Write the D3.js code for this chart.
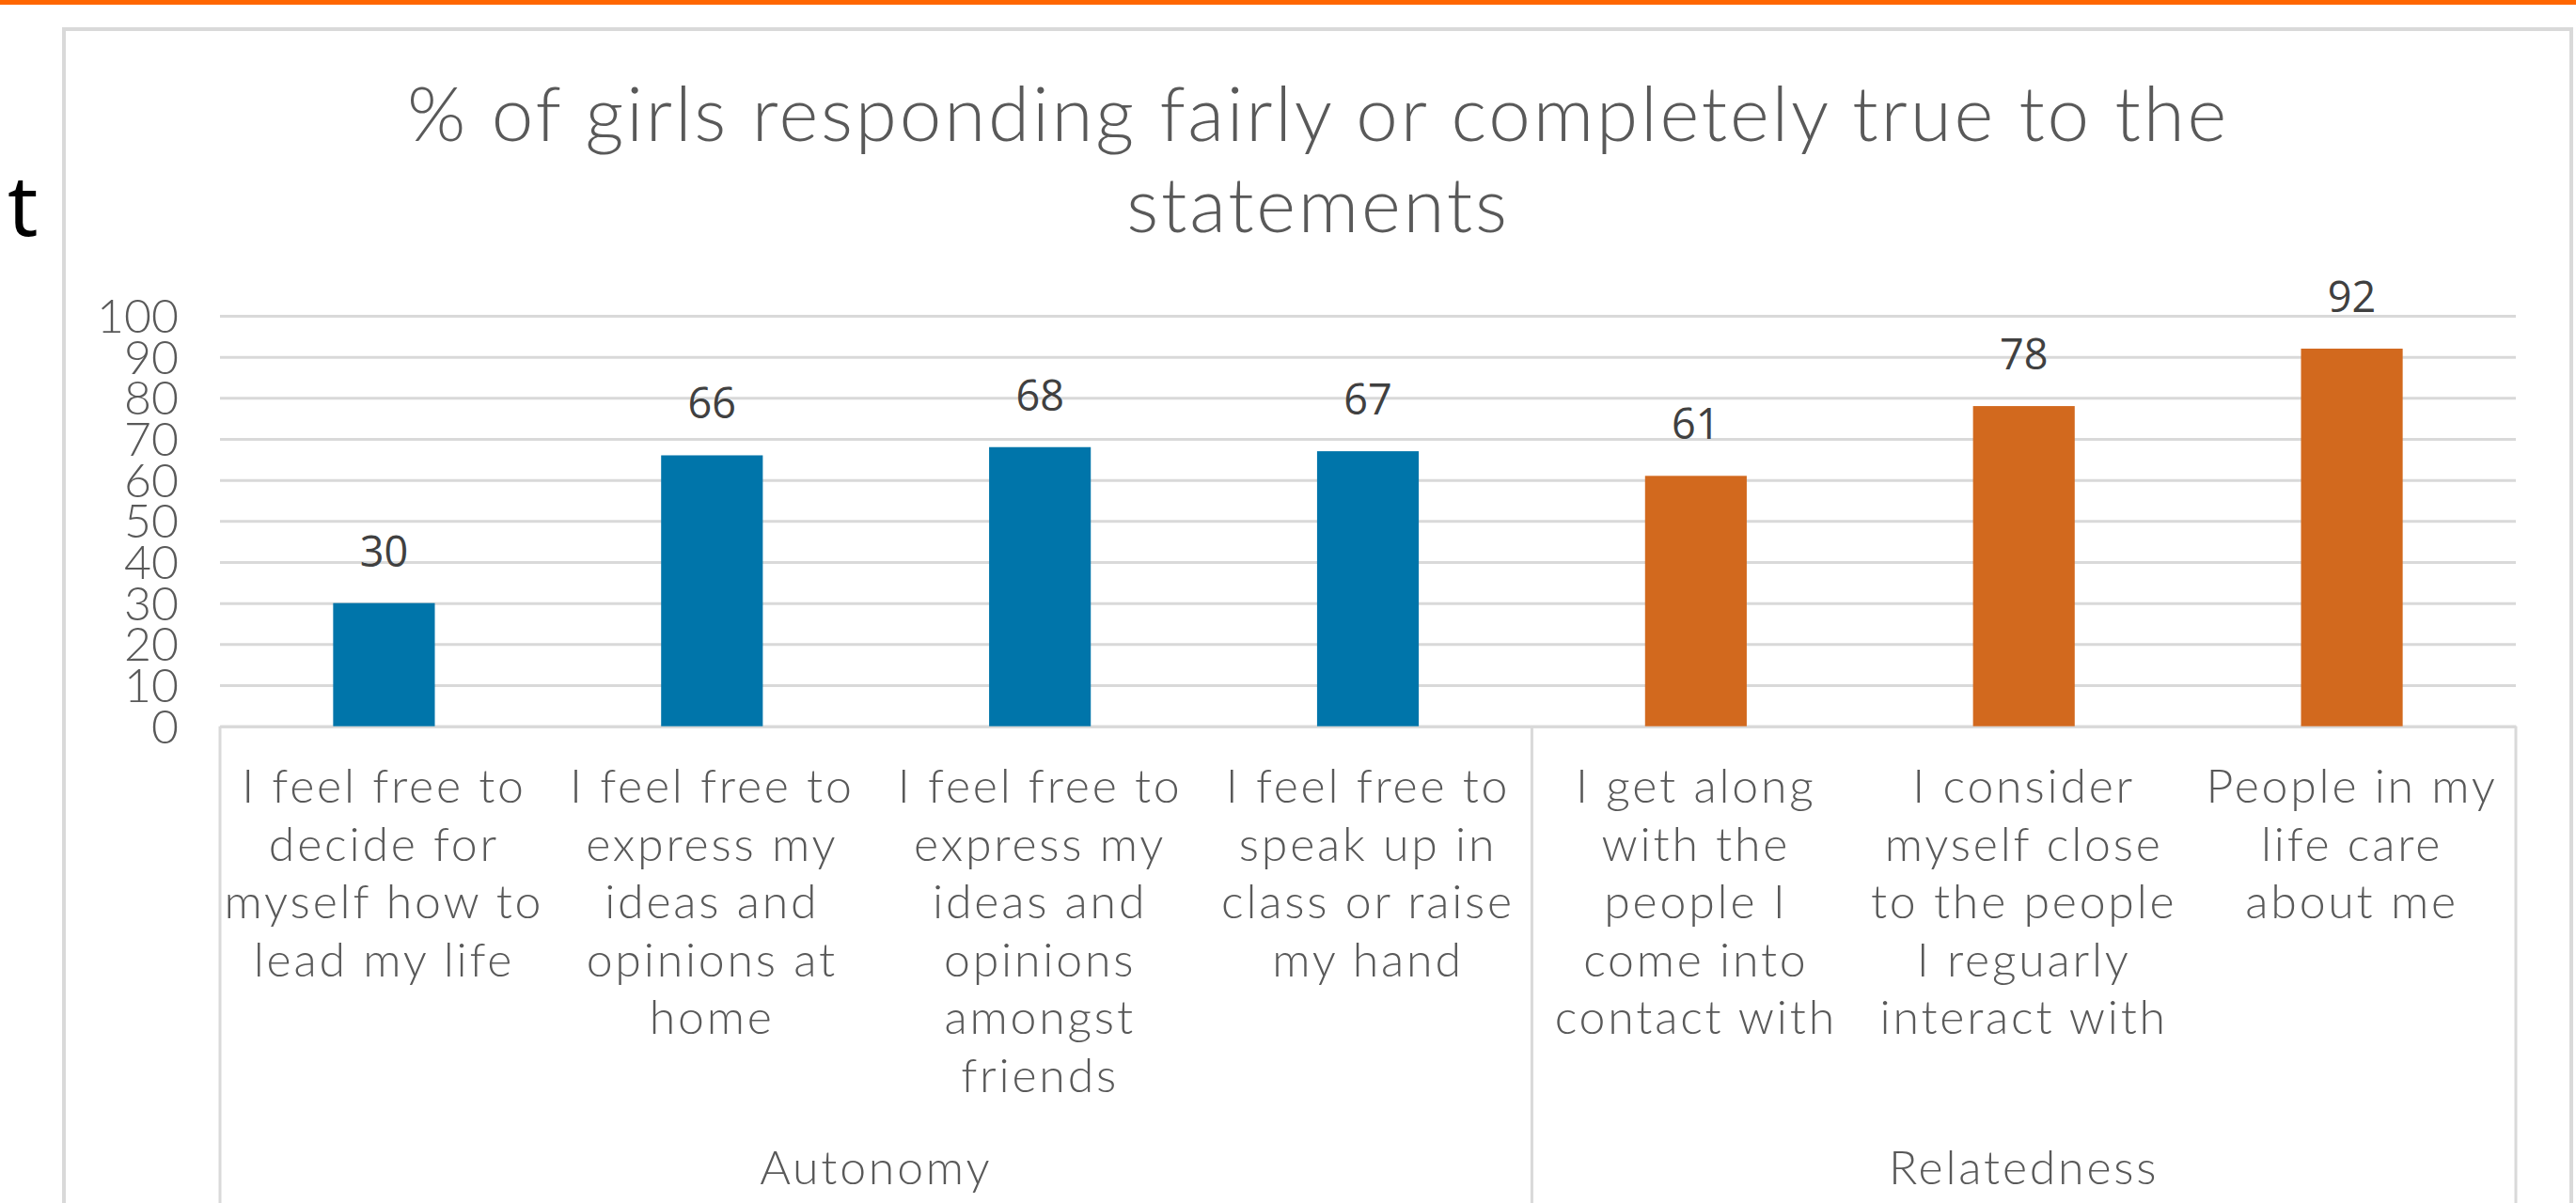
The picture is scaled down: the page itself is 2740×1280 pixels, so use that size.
<!DOCTYPE html>
<html>
<head>
<meta charset="utf-8">
<script src="https://cdn.jsdelivr.net/npm/d3@7"></script>
<style>
  html, body { margin: 0; padding: 0; background: #fff; }
  svg { display: block; }
</style>
</head>
<body>
<svg id="chart"></svg>
<script>
'use strict';

// ── Data ──────────────────────────────────────────────────────────────────
const categoryLines = [
  ['I feel free to', 'decide for', 'myself how to', 'lead my life'],
  ['I feel free to', 'express my', 'ideas and', 'opinions at', 'home'],
  ['I feel free to', 'express my', 'ideas and', 'opinions', 'amongst', 'friends'],
  ['I feel free to', 'speak up in', 'class or raise', 'my hand'],
  ['I get along', 'with the', 'people I', 'come into', 'contact with'],
  ['I consider', 'myself close', 'to the people', 'I reguarly', 'interact with'],
  ['People in my', 'life care', 'about me']
];
const values     = [30, 66, 68, 67, 61, 78, 92];
const groupNames = ['Autonomy', 'Relatedness'];
const groupSizes = [4, 3];
const yTicks     = [0, 10, 20, 30, 40, 50, 60, 70, 80, 90, 100];
const titleLines = ['% of girls responding fairly or completely true to the', 'statements'];

// ── Dimensions ────────────────────────────────────────────────────────────
const W = 2740, H = 1280;
const PLOT_L = 234, PLOT_R = 2676;
const PLOT_T = 336, PLOT_B = 772.7;
const GOTHIC = "'Century Gothic', Lato, 'Open Sans', sans-serif";
const GREY   = '#595959';
const RULE   = '#d9d9d9';
const SPREAD = 2.8;   // Lato is narrower than Century Gothic

const svg = d3.select('#chart').attr('width', W).attr('height', H);
svg.append('rect').attr('width', W).attr('height', H).attr('fill', '#fff');

// slide accent bar + stray slide text behind the chart
svg.append('rect').attr('x', 0).attr('y', 0).attr('width', W).attr('height', 5).attr('fill', '#ff6600');
svg.append('text')
  .attr('x', 8).attr('y', 251)
  .attr('font-family', "'Noto Sans', sans-serif")
  .attr('font-size', 90)
  .attr('fill', '#000')
  .text('t');

// chart frame (bottom edge falls outside the picture)
svg.append('rect')
  .attr('x', 68).attr('y', 31)
  .attr('width', 2735 - 68).attr('height', 1400)
  .attr('fill', '#fff')
  .attr('stroke', RULE).attr('stroke-width', 4);

// ── Title ─────────────────────────────────────────────────────────────────
svg.append('text')
  .attr('text-anchor', 'middle')
  .attr('font-family', GOTHIC).attr('font-weight', 300)
  .attr('font-size', 80)
  .attr('letter-spacing', SPREAD)
  .attr('fill', GREY)
  .selectAll('tspan')
  .data(titleLines)
  .join('tspan')
  .attr('x', 1402)
  .attr('y', (d, i) => 150 + i * 97)
  .text(d => d);

// ── Scales ────────────────────────────────────────────────────────────────
const x = d3.scaleBand()
  .domain(values.map((d, i) => i))
  .range([PLOT_L, PLOT_R])
  .padding(0);

const y = d3.scaleLinear()
  .domain([0, 100])
  .range([PLOT_B, PLOT_T]);

const barW = x.bandwidth() * 0.31;

// ── Y axis + gridlines ────────────────────────────────────────────────────
svg.append('g')
  .attr('transform', `translate(${PLOT_L},0)`)
  .call(d3.axisLeft(y)
    .tickValues(yTicks)
    .tickSizeInner(-(PLOT_R - PLOT_L))
    .tickSizeOuter(0)
    .tickPadding(44))
  .call(ax => ax.select('.domain').remove())
  .call(ax => ax.selectAll('.tick line').attr('stroke', RULE).attr('stroke-width', 3))
  .call(ax => ax.selectAll('.tick text')
    .attr('fill', GREY)
    .attr('font-family', GOTHIC).attr('font-weight', 300)
    .attr('font-size', 50)
    .attr('dy', '0.35em'));

// ── X axis (two level) ────────────────────────────────────────────────────
const xAxis = svg.append('g')
  .attr('transform', `translate(0,${PLOT_B})`)
  .call(d3.axisBottom(x).tickSize(0).tickFormat(''))
  .call(ax => ax.select('.domain').attr('stroke', RULE).attr('stroke-width', 3));

xAxis.selectAll('.tick text')
  .attr('y', 0).attr('dy', 0)
  .attr('fill', GREY)
  .attr('font-family', GOTHIC).attr('font-weight', 300)
  .attr('font-size', 50)
  .attr('letter-spacing', SPREAD)
  .selectAll('tspan')
  .data(i => categoryLines[i])
  .join('tspan')
  .attr('x', 0)
  .attr('y', (d, j) => 854 - PLOT_B + j * 61.6)
  .text(d => d);

// group boundaries and names
const groupStarts = groupSizes.map((n, g) => d3.sum(groupSizes.slice(0, g)));
const bounds = groupStarts.map(s => x(s)).concat([PLOT_R]);

svg.append('g').selectAll('line')
  .data(bounds)
  .join('line')
  .attr('x1', d => d).attr('x2', d => d)
  .attr('y1', PLOT_B).attr('y2', H + 10)
  .attr('stroke', RULE).attr('stroke-width', 3);

svg.append('g').selectAll('text')
  .data(groupNames)
  .join('text')
  .attr('x', (d, g) => (bounds[g] + bounds[g + 1]) / 2)
  .attr('y', 1260)
  .attr('text-anchor', 'middle')
  .attr('fill', GREY)
  .attr('font-family', GOTHIC).attr('font-weight', 300)
  .attr('font-size', 50)
  .attr('letter-spacing', SPREAD)
  .text(d => d);

// ── Bars ──────────────────────────────────────────────────────────────────
const groupOf = i => d3.bisectRight(groupStarts, i) - 1;
const colors  = ['#0075aa', '#d2691e'];

svg.append('g').selectAll('rect')
  .data(values)
  .join('rect')
  .attr('x', (d, i) => x(i) + (x.bandwidth() - barW) / 2)
  .attr('y', d => y(d))
  .attr('width', barW)
  .attr('height', d => y(0) - y(d))
  .attr('fill', (d, i) => colors[groupOf(i)]);

// value labels
svg.append('g').selectAll('text')
  .data(values)
  .join('text')
  .attr('x', (d, i) => x(i) + x.bandwidth() / 2)
  .attr('y', d => y(d) - 39)
  .attr('text-anchor', 'middle')
  .attr('fill', '#404040')
  .attr('font-family', "'Open Sans', sans-serif")
  .attr('font-size', 45)
  .text(d => d);
</script>
</body>
</html>
